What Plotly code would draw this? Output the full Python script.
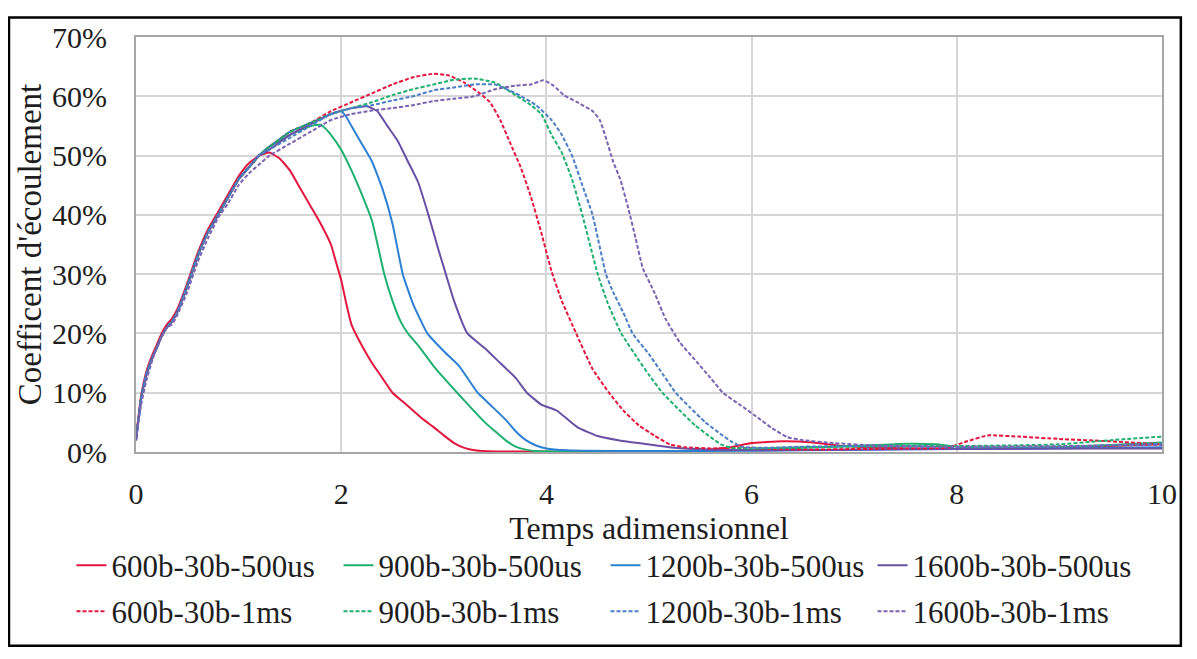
import plotly.graph_objects as go

# ---- data (x = temps adimensionnel, y = coefficient d'écoulement in %) ----
x_rise = [0.00, 0.05, 0.10, 0.15, 0.20, 0.25, 0.30, 0.35, 0.40, 0.50, 0.60, 0.70, 0.80, 0.90, 1.00, 1.10, 1.20]
y_rise = [2.0, 9.0, 13.0, 15.5, 17.5, 19.5, 21.0, 22.0, 23.5, 28.0, 33.0, 37.0, 40.0, 43.0, 46.0, 48.0, 50.0]
y_rise_600 = [2.5, 9.5, 13.5, 16.0, 18.0, 20.0, 21.5, 22.5, 24.0, 28.5, 33.5, 37.5, 40.5, 43.5, 46.5, 48.7, 50.0]
y_rise_1600_1ms = [2.0, 8.0, 12.0, 15.0, 17.5, 19.5, 21.0, 21.5, 23.0, 27.0, 32.0, 36.0, 39.5, 42.0, 45.0, 47.0, 48.5]

x_600_500 = [1.30, 1.40, 1.50, 1.60, 1.70, 1.80, 1.90, 1.95, 2.00, 2.05, 2.10, 2.20, 2.30, 2.40, 2.50, 2.60, 2.70, 2.80, 2.90, 3.00, 3.10, 3.20, 3.30, 3.50, 4.00, 5.00, 5.50, 5.80, 6.00, 6.30, 6.60, 6.90, 7.50, 8.00, 8.50, 9.00, 9.50, 10.0]
y_600_500 = [50.5, 49.5, 47.5, 44.5, 41.5, 38.5, 35.0, 32.0, 29.0, 25.0, 21.5, 18.0, 15.0, 12.5, 10.0, 8.5, 7.0, 5.5, 4.2, 2.8, 1.5, 0.7, 0.3, 0.1, 0.05, 0.05, 0.3, 0.8, 1.5, 1.8, 1.6, 1.0, 0.6, 0.5, 0.6, 0.8, 1.0, 1.3]

x_900_500 = [1.30, 1.40, 1.50, 1.60, 1.70, 1.80, 1.85, 1.90, 2.00, 2.10, 2.20, 2.30, 2.42, 2.50, 2.58, 2.65, 2.75, 2.90, 3.00, 3.13, 3.30, 3.40, 3.50, 3.60, 3.70, 3.80, 3.90, 4.50, 5.50, 6.00, 6.50, 7.00, 7.50, 7.80, 8.00, 8.50, 9.00, 9.50, 10.0]
y_900_500 = [51.5, 52.5, 53.5, 54.3, 55.0, 55.2, 54.5, 53.5, 51.0, 47.5, 43.5, 39.0, 30.0, 25.5, 22.0, 20.0, 18.0, 14.5, 12.5, 10.0, 6.8, 5.0, 3.5, 2.0, 0.9, 0.4, 0.15, 0.1, 0.2, 0.4, 0.7, 1.0, 1.4, 1.3, 0.9, 0.7, 0.8, 1.2, 1.6]

x_1200_500 = [1.30, 1.50, 1.70, 1.90, 2.00, 2.05, 2.10, 2.20, 2.30, 2.40, 2.50, 2.60, 2.70, 2.84, 3.00, 3.15, 3.33, 3.45, 3.60, 3.70, 3.80, 3.90, 4.00, 4.20, 5.00, 6.00, 7.00, 8.00, 9.00, 10.0]
y_1200_500 = [51.5, 54.0, 55.5, 57.0, 57.5, 56.5, 55.0, 52.0, 49.0, 44.5, 38.5, 30.0, 25.0, 20.0, 17.0, 14.5, 10.0, 8.0, 5.5, 3.5, 2.0, 1.1, 0.6, 0.3, 0.15, 0.2, 0.4, 0.5, 0.6, 0.8]

x_1600_500 = [1.30, 1.50, 1.70, 1.90, 2.10, 2.25, 2.35, 2.45, 2.55, 2.65, 2.75, 2.85, 2.95, 3.02, 3.10, 3.23, 3.40, 3.55, 3.70, 3.81, 3.95, 4.10, 4.30, 4.50, 4.70, 4.95, 5.25, 5.60, 6.00, 7.00, 8.00, 9.00, 10.0]
y_1600_500 = [51.0, 53.5, 55.3, 57.0, 58.0, 58.3, 57.5, 55.0, 52.5, 49.0, 45.5, 40.0, 34.0, 30.0, 25.5, 20.0, 17.5, 15.0, 12.5, 10.0, 8.0, 7.0, 4.2, 2.7, 2.0, 1.4, 0.7, 0.4, 0.3, 0.4, 0.5, 0.6, 0.6]

x_600_1ms = [1.30, 1.50, 1.70, 1.90, 2.10, 2.30, 2.50, 2.70, 2.90, 3.05, 3.20, 3.35, 3.45, 3.55, 3.65, 3.75, 3.85, 3.95, 4.05, 4.15, 4.29, 4.45, 4.61, 4.75, 4.90, 5.05, 5.20, 5.35, 5.60, 5.90, 6.20, 6.60, 7.00, 7.50, 7.90, 8.10, 8.30, 8.60, 9.00, 9.50, 10.0]
y_600_1ms = [51.5, 54.0, 55.5, 57.5, 59.0, 60.5, 62.0, 63.2, 63.8, 63.5, 62.3, 60.5, 59.0, 56.0, 52.0, 48.0, 43.0, 37.0, 30.5, 25.5, 20.0, 14.0, 10.0, 7.0, 4.5, 2.8, 1.3, 0.8, 0.6, 0.7, 0.5, 0.4, 0.5, 0.6, 0.7, 1.8, 2.8, 2.6, 2.2, 1.8, 1.3]

x_900_1ms = [1.30, 1.50, 1.70, 1.90, 2.10, 2.30, 2.50, 2.70, 2.90, 3.10, 3.30, 3.50, 3.70, 3.85, 3.95, 4.05, 4.15, 4.25, 4.35, 4.50, 4.60, 4.73, 4.90, 5.00, 5.13, 5.30, 5.45, 5.60, 5.70, 5.80, 6.00, 6.50, 7.00, 7.50, 8.00, 8.50, 9.00, 9.50, 10.0]
y_900_1ms = [51.5, 54.0, 55.5, 57.0, 58.0, 59.0, 60.2, 61.2, 62.0, 62.8, 63.0, 62.3, 60.2, 58.5, 57.0, 53.5, 50.5, 46.0, 40.0, 30.0, 25.0, 20.0, 15.5, 13.0, 10.0, 7.0, 4.5, 2.5, 1.3, 0.7, 0.6, 0.8, 0.9, 1.0, 1.0, 1.1, 1.3, 2.0, 2.6]

x_1200_1ms = [1.30, 1.50, 1.70, 1.90, 2.10, 2.30, 2.50, 2.70, 2.90, 3.10, 3.30, 3.50, 3.70, 3.90, 4.05, 4.15, 4.25, 4.35, 4.45, 4.58, 4.65, 4.75, 4.84, 5.00, 5.10, 5.26, 5.40, 5.55, 5.70, 5.80, 5.90, 6.10, 6.50, 7.00, 8.00, 9.00, 10.0]
y_1200_1ms = [51.0, 53.0, 55.0, 57.0, 58.0, 58.5, 59.3, 60.0, 61.0, 61.5, 62.0, 62.0, 60.5, 58.5, 56.0, 53.5, 50.0, 45.0, 40.0, 30.0, 27.0, 23.5, 20.0, 16.5, 14.0, 10.0, 7.5, 5.0, 3.0, 1.8, 0.9, 0.7, 0.9, 1.0, 0.8, 0.9, 1.4]

x_1600_1ms = [1.30, 1.50, 1.70, 1.90, 2.10, 2.30, 2.50, 2.70, 2.90, 3.10, 3.30, 3.50, 3.70, 3.85, 3.97, 4.07, 4.17, 4.30, 4.45, 4.52, 4.58, 4.65, 4.72, 4.80, 4.87, 4.94, 5.05, 5.16, 5.30, 5.45, 5.60, 5.72, 5.90, 6.06, 6.20, 6.35, 6.50, 6.80, 7.20, 8.00, 9.00, 10.0]
y_1600_1ms = [50.0, 52.0, 54.0, 56.0, 57.0, 57.6, 58.0, 58.5, 59.2, 59.6, 60.0, 61.2, 61.8, 62.0, 62.7, 61.8, 60.2, 59.0, 57.5, 56.0, 53.0, 49.0, 46.0, 41.0, 36.0, 31.0, 27.0, 22.5, 18.5, 15.5, 12.5, 10.0, 7.8, 5.8, 4.0, 2.5, 2.0, 1.5, 1.1, 0.9, 1.0, 1.2]

series_names = ["600b-30b-500us", "900b-30b-500us", "1200b-30b-500us", "1600b-30b-500us",
                "600b-30b-1ms", "900b-30b-1ms", "1200b-30b-1ms", "1600b-30b-1ms"]
series_x = [x_600_500, x_900_500, x_1200_500, x_1600_500, x_600_1ms, x_900_1ms, x_1200_1ms, x_1600_1ms]
series_y = [y_600_500, y_900_500, y_1200_500, y_1600_500, y_600_1ms, y_900_1ms, y_1200_1ms, y_1600_1ms]
series_rise = [y_rise_600, y_rise, y_rise, y_rise, y_rise, y_rise, y_rise, y_rise_1600_1ms]

x_ticks = [0, 2, 4, 6, 8, 10]
y_ticks = [0, 10, 20, 30, 40, 50, 60, 70]
y_tick_labels = ["0%", "10%", "20%", "30%", "40%", "50%", "60%", "70%"]

colors = ["#E3173E", "#1DB06F", "#2C80D3", "#6A4FA5"]
dash_colors = ["#E3173E", "#1DB06F", "#4A7FC8", "#7A63B3"]

FONT = "Liberation Serif, Times New Roman, serif"
FS = 30
TXT = "#1E1E1E"

# page has an 8px body margin: work in reference pixel coordinates, shifted by 8
OFF = 8
W, H = 1197 - 2 * OFF, 659 - 2 * OFF
L, R, T, B = 136 - OFF, 1170 - OFF, 28 - OFF, 452 - OFF
pw, ph = R - L, B - T

def px(xp):
    return (xp - OFF - L) / pw

def py(yp):
    return (B - (yp - OFF)) / ph

fig = go.Figure()
for i, (name, xs, ys, ry) in enumerate(zip(series_names, series_x, series_y, series_rise)):
    solid = i < 4
    col = colors[i % 4] if solid else dash_colors[i % 4]
    fig.add_trace(go.Scatter(
        x=x_rise + xs, y=ry + ys, mode="lines", name=name,
        legend="legend" if solid else "legend2",
        line=dict(color=col, width=2, dash=None if solid else "4px,2px", shape="spline", smoothing=0.4),
    ))

leg_common = dict(
    orientation="h", xanchor="left", yanchor="middle",
    entrywidth=222, entrywidthmode="pixels", itemwidth=30,
    font=dict(family=FONT, size=31, color=TXT),
    bgcolor="rgba(0,0,0,0)", borderwidth=0,
)

fig.update_layout(
    width=W, height=H,
    margin=dict(l=L, r=W - R, t=T, b=H - B),
    paper_bgcolor="white", plot_bgcolor="white",
    font=dict(family=FONT, size=FS, color=TXT),
    showlegend=True,
    legend=dict(x=px(71), y=py(568), **leg_common),
    legend2=dict(x=px(71), y=py(615), **leg_common),
    xaxis=dict(
        range=[0, 10], tickvals=x_ticks, ticktext=[str(v) for v in x_ticks],
        showgrid=True, gridcolor="#D6D6D6", gridwidth=2,
        showline=True, linecolor="#A6A6A6", linewidth=2, mirror=True,
        zeroline=False, ticks="", ticklabelstandoff=14,
        title=dict(text="Temps adimensionnel", font=dict(family=FONT, size=32, color=TXT), standoff=0),
    ),
    yaxis=dict(
        range=[0, 70], tickvals=y_ticks, ticktext=y_tick_labels,
        showgrid=True, gridcolor="#D6D6D6", gridwidth=2,
        showline=True, linecolor="#A6A6A6", linewidth=2, mirror=True,
        zeroline=False, ticks="", ticklabelstandoff=21,
        title=dict(text="Coefficent d'écoulement", font=dict(family=FONT, size=33, color=TXT), standoff=0),
    ),
)

# outer black frame of the figure
fig.add_shape(type="rect", xref="paper", yref="paper",
              x0=px(8), x1=px(1189), y0=py(650), y1=py(8),
              line=dict(color="black", width=2.5), fillcolor="rgba(0,0,0,0)", layer="above")

fig.write_html("out.html")
